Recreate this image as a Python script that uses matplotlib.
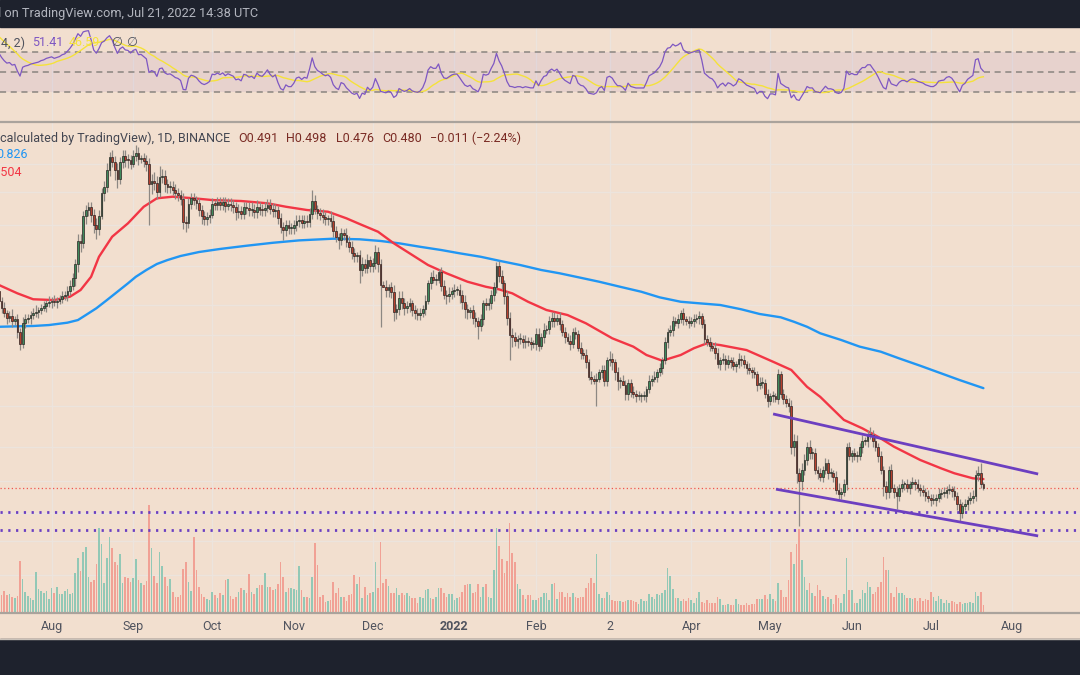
import numpy as np
import pandas as pd
import matplotlib
matplotlib.use("Agg")
import matplotlib.pyplot as plt
import matplotlib.dates as mdates
from matplotlib.patches import Rectangle
from matplotlib.lines import Line2D

plt.rcParams['font.family'] = ['Roboto', 'DejaVu Sans']

W, H = 1080, 675

# ADA/USD daily candles (Binance), 12 Jul 2021 .. 21 Jul 2022
start = pd.Timestamp('2021-07-12')

# closes of the two weeks before the first drawn candle, only used to seed the RSI
warmup_closes = [1.33, 1.40, 1.37, 1.32, 1.39, 1.42, 1.47, 1.41, 1.45, 1.42, 1.35, 1.39, 1.34, 1.40]

closes = [
    1.33, 1.28, 1.24, 1.21, 1.22, 1.19, 1.20, 1.12, 1.05, 1.18,
    1.20, 1.21, 1.23, 1.24, 1.25, 1.26, 1.28, 1.29, 1.31, 1.32,
    1.33, 1.32, 1.33, 1.34, 1.36, 1.37, 1.40, 1.44, 1.50, 1.62,
    1.84, 1.82, 2.10, 2.17, 2.21, 2.12, 2.00, 1.96, 2.11, 2.38,
    2.47, 2.70, 2.90, 2.83, 2.70, 2.58, 2.82, 2.92, 2.86, 2.85,
    2.80, 2.92, 2.97, 2.87, 2.88, 2.84, 2.80, 2.50, 2.55, 2.52,
    2.40, 2.60, 2.62, 2.50, 2.46, 2.47, 2.43, 2.38, 2.36, 2.31,
    2.04, 2.03, 2.25, 2.32, 2.30, 2.26, 2.17, 2.10, 2.07, 2.09,
    2.12, 2.25, 2.24, 2.27, 2.24, 2.27, 2.22, 2.25, 2.23, 2.21,
    2.15, 2.16, 2.13, 2.21, 2.20, 2.17, 2.18, 2.15, 2.21, 2.18,
    2.17, 2.20, 2.24, 2.19, 2.16, 2.18, 2.08, 1.98, 1.95, 2.00,
    1.97, 1.97, 2.00, 2.05, 2.06, 2.03, 2.05, 2.04, 2.13, 2.29,
    2.19, 2.14, 2.12, 2.09, 2.07, 2.08, 2.05, 1.94, 1.88, 1.85,
    1.92, 1.90, 1.83, 1.78, 1.72, 1.69, 1.70, 1.57, 1.62, 1.59,
    1.66, 1.60, 1.63, 1.73, 1.62, 1.45, 1.43, 1.41, 1.43, 1.39,
    1.25, 1.27, 1.35, 1.31, 1.28, 1.29, 1.31, 1.26, 1.24, 1.23,
    1.24, 1.27, 1.33, 1.46, 1.51, 1.49, 1.49, 1.55, 1.44, 1.37,
    1.36, 1.38, 1.40, 1.41, 1.41, 1.37, 1.32, 1.27, 1.25, 1.26,
    1.21, 1.19, 1.16, 1.20, 1.31, 1.30, 1.31, 1.37, 1.43, 1.60,
    1.52, 1.46, 1.36, 1.21, 1.10, 1.09, 1.07, 1.08, 1.08, 1.06,
    1.07, 1.06, 1.05, 1.05, 1.11, 1.04, 1.09, 1.13, 1.14, 1.19,
    1.21, 1.19, 1.21, 1.17, 1.12, 1.09, 1.07, 1.05, 1.12, 1.11,
    1.03, 1.00, 0.99, 0.95, 0.88, 0.87, 0.86, 0.87, 0.90, 0.91,
    0.86, 0.96, 0.97, 0.95, 0.90, 0.86, 0.86, 0.84, 0.80, 0.85,
    0.81, 0.80, 0.79, 0.79, 0.79, 0.79, 0.82, 0.86, 0.87, 0.88,
    0.90, 0.92, 0.96, 1.06, 1.12, 1.13, 1.19, 1.18, 1.20, 1.24,
    1.20, 1.19, 1.18, 1.19, 1.20, 1.21, 1.22, 1.17, 1.08, 1.06,
    1.04, 1.03, 1.00, 0.94, 0.96, 0.97, 0.94, 0.96, 0.95, 0.93,
    0.94, 0.97, 0.96, 0.94, 0.92, 0.91, 0.90, 0.89, 0.84, 0.85,
    0.85, 0.80, 0.77, 0.79, 0.79, 0.78, 0.89, 0.80, 0.78, 0.76,
    0.75, 0.60, 0.62, 0.52, 0.50, 0.53, 0.56, 0.60, 0.58, 0.58,
    0.53, 0.52, 0.51, 0.53, 0.55, 0.52, 0.52, 0.51, 0.475, 0.465,
    0.47, 0.49, 0.60, 0.57, 0.58, 0.57, 0.57, 0.60, 0.62, 0.62,
    0.64, 0.64, 0.62, 0.60, 0.57, 0.53, 0.485, 0.47, 0.53, 0.48,
    0.47, 0.46, 0.48, 0.49, 0.49, 0.48, 0.49, 0.495, 0.49, 0.48,
    0.475, 0.47, 0.46, 0.455, 0.45, 0.45, 0.455, 0.465, 0.467, 0.468,
    0.475, 0.477, 0.472, 0.46, 0.44, 0.42, 0.435, 0.44, 0.45, 0.455,
    0.46, 0.515, 0.52, 0.491, 0.480,
]

# wick lengths in % beyond the body, one digit per day
upper_wick = ("3232342323 3223422323 2322323333 4433333433 3434343333"
              "3343233345 4643333333 3333323333 3323333333 3433334343"
              "3333332333 3333333336 3233324332 3243332343 3234332423"
              "4344333233 3232343233 3423233432 3323233333 3323343232"
              "3232332423 3323232323 2323232323 3243232332 2323232323"
              "2323233232 3232323232 3233232323 2323232323 3232323232"
              "3343343343 3232323234 2323233232 3533232323 2323232323"
              "2323232323 2323232323 33461")
lower_wick = ("2323232332 3232232232 3232223224 4534344532 4333553344"
              "3233234054 4334333333 4533333433 3233333233 4333333333"
              "3323333353 3333333333 3333333335 3333333733 3333440443"
              "5433433333 3232323232 4333344543 3373333333 3344053433"
              "3232332323 3323232323 2323232323 3334454033 3232323232"
              "3232323232 3232323232 3232323232 3232323232 3232323232"
              "3455053333 2323232323 3232323232 3232325432 3732323232"
              "3232323232 3232353232 33321")
high_spikes = {52: 3.10, 119: 2.43, 189: 1.64, 331: 0.67, 373: 0.55}
low_spikes = {57: 2.00, 145: 1.15, 194: 0.96, 227: 0.75, 304: 0.39}

# volume, relative units (1 unit = 1 px of the volume pane)
volume = [
    18, 17, 21, 17, 18, 15, 14, 16, 51, 33, 20, 16, 14, 12, 40, 23, 21, 19, 21, 13,
    24, 19, 25, 18, 18, 21, 23, 18, 19, 39, 54, 41, 60, 65, 35, 30, 32, 48, 84, 68,
    29, 54, 75, 64, 50, 47, 58, 29, 35, 34, 30, 34, 53, 32, 29, 27, 31, 107, 64, 36,
    29, 60, 46, 35, 26, 33, 20, 15, 15, 17, 43, 50, 30, 21, 75, 42, 25, 18, 15, 13,
    12, 20, 17, 14, 19, 17, 32, 33, 16, 13, 15, 20, 24, 22, 19, 38, 20, 18, 24, 27,
    27, 39, 25, 25, 22, 23, 28, 50, 35, 20, 24, 24, 23, 22, 46, 22, 15, 15, 14, 35,
    69, 47, 15, 17, 10, 11, 12, 30, 19, 24, 15, 15, 11, 17, 18, 37, 28, 35, 14, 25,
    17, 19, 20, 50, 24, 70, 29, 33, 26, 19, 19, 24, 17, 19, 17, 19, 16, 14, 14, 9,
    15, 14, 22, 23, 14, 13, 15, 24, 24, 19, 15, 18, 18, 12, 14, 15, 20, 27, 28, 28,
    19, 20, 28, 15, 25, 28, 15, 14, 42, 84, 66, 53, 39, 51, 89, 59, 50, 28, 23, 17,
    13, 17, 17, 12, 12, 14, 15, 19, 19, 12, 28, 29, 13, 20, 20, 15, 19, 15, 19, 15,
    14, 15, 15, 24, 29, 34, 29, 58, 18, 14, 14, 20, 17, 12, 11, 11, 11, 10, 11, 12,
    12, 11, 10, 8, 13, 11, 11, 18, 15, 13, 18, 17, 19, 22, 44, 36, 23, 14, 14, 11,
    13, 11, 14, 12, 9, 14, 20, 10, 9, 12, 9, 9, 9, 15, 13, 7, 7, 8, 7, 7,
    13, 8, 7, 7, 9, 7, 8, 8, 13, 13, 13, 17, 13, 18, 13, 11, 29, 22, 15, 15,
    32, 60, 48, 68, 83, 52, 35, 22, 29, 19, 16, 27, 22, 16, 13, 15, 13, 8, 17, 14,
    9, 18, 54, 22, 22, 9, 9, 13, 22, 19, 30, 25, 18, 20, 25, 30, 55, 42, 42, 19,
    15, 25, 19, 19, 17, 14, 14, 13, 14, 11, 14, 11, 13, 12, 20, 15, 11, 16, 13, 9,
    12, 9, 11, 10, 8, 10, 8, 9, 9, 10, 9, 20, 16, 20, 7,
]

# moving averages (day index, value)
ma50_days = [0, 7, 13, 21, 27, 31, 35, 38, 43, 49, 55, 60, 66, 74, 81, 92, 102, 109, 117, 125,
             132, 137, 144, 150, 156, 163, 170, 178, 185, 190, 195, 201, 208, 216, 223, 233, 241, 246, 252, 259,
             264, 269, 274, 284, 294, 301, 307, 312, 321, 328, 334, 340, 350, 358, 363, 370, 374]
ma50_vals = [1.447, 1.383, 1.339, 1.333, 1.358, 1.408, 1.513, 1.687, 1.881, 2.023, 2.214, 2.318, 2.338, 2.318,
             2.296, 2.284, 2.256, 2.214, 2.175, 2.155, 2.079, 2.016, 1.933, 1.815, 1.719, 1.613, 1.542, 1.473,
             1.433, 1.413, 1.383, 1.321, 1.263, 1.229, 1.175, 1.083, 1.035, 0.989, 0.959, 0.989, 1.026, 1.054,
             1.044, 1.016, 0.954, 0.912, 0.832, 0.788, 0.695, 0.664, 0.634, 0.601, 0.559, 0.534, 0.520, 0.506,
             0.504]
ma200_days = [0, 7, 13, 19, 26, 30, 33, 37, 41, 45, 49, 52, 56, 60, 64, 69, 76, 84, 94, 104,
              114, 127, 137, 145, 152, 160, 168, 175, 183, 190, 198, 206, 213, 221, 228, 236, 244, 251, 259, 266,
              274, 282, 289, 297, 302, 307, 312, 320, 327, 335, 342, 350, 358, 365, 374]
ma200_vals = [1.153, 1.156, 1.158, 1.164, 1.179, 1.196, 1.229, 1.275, 1.333, 1.395, 1.460, 1.513, 1.570, 1.622,
              1.657, 1.694, 1.731, 1.760, 1.791, 1.820, 1.844, 1.861, 1.855, 1.838, 1.815, 1.781, 1.750, 1.719,
              1.687, 1.651, 1.613, 1.570, 1.542, 1.505, 1.473, 1.433, 1.395, 1.353, 1.321, 1.310, 1.298, 1.268,
              1.236, 1.214, 1.185, 1.153, 1.113, 1.073, 1.035, 1.007, 0.971, 0.933, 0.895, 0.863, 0.826]

# drawings
support_levels = [0.4213, 0.382]
last_price = 0.480
channel_upper = ([294.1, 394.8], [0.718, 0.518])
channel_lower = ([295.2, 394.8], [0.477, 0.370])

month_ticks = ['2021-08-01', '2021-09-01', '2021-10-01', '2021-11-01', '2021-12-01', '2022-01-01',
               '2022-02-01', '2022-03-01', '2022-04-01', '2022-05-01', '2022-06-01', '2022-07-01', '2022-08-01']
month_labels = ['Aug', 'Sep', 'Oct', 'Nov', 'Dec', '2022', 'Feb', '2', 'Apr', 'May', 'Jun', 'Jul', 'Aug']
price_grid = [2.8, 2.4, 2.0, 1.6, 1.3, 1.1, 0.9, 0.75, 0.6, 0.5, 0.42, 0.36, 0.3]

BG = '#f2dfcf'
GRID = '#ece4dd'
DARK = '#1e222d'
UP, DOWN = '#3f8a5c', '#b8402e'
VOL_UP, VOL_DOWN = '#92c8b6', '#f1a195'

# ---------------------------------------------------------------
n = len(closes)
assert len(volume) == n
up_pct = np.array([int(ch) for ch in upper_wick.replace(' ', '')])
dn_pct = np.array([int(ch) for ch in lower_wick.replace(' ', '')])
assert len(up_pct) == n and len(dn_pct) == n

dates = pd.date_range(start, periods=n, freq='D')
xs = mdates.date2num(dates)
x0 = mdates.date2num(start)

c = np.array(closes)
o = np.array([warmup_closes[-1]] + closes[:-1])
hi = np.maximum(o, c) * (1 + up_pct / 100)
lo = np.minimum(o, c) * (1 - dn_pct / 100)
for k, v in high_spikes.items():
    hi[k] = v
for k, v in low_spikes.items():
    lo[k] = v
rising = c >= o

allc = pd.Series(warmup_closes + closes)
diff = allc.diff()
gain = diff.clip(lower=0).ewm(alpha=1 / 14, adjust=False).mean()
loss = (-diff.clip(upper=0)).ewm(alpha=1 / 14, adjust=False).mean()
rsi_all = 100 - 100 / (1 + gain / loss)
rsi_ma_all = rsi_all.rolling(14, min_periods=1).mean()
rsi = rsi_all.iloc[len(warmup_closes):].values
rsi_ma = rsi_ma_all.iloc[len(warmup_closes):].values


def fy(py):
    return 1 - py / H


xlim = (x0 + 0.395, x0 + 410.7)
month_x = mdates.date2num(pd.to_datetime(month_ticks))

fig = plt.figure(figsize=(W / 100, H / 100), dpi=100, facecolor=BG)

# dark bars top and bottom
fig.patches.append(Rectangle((0, fy(27)), 1, 27 / H, transform=fig.transFigure, color=DARK, zorder=0))
fig.patches.append(Rectangle((0, 0), 1, 36 / H, transform=fig.transFigure, color=DARK, zorder=0))

# ---- RSI pane
ax_r = fig.add_axes([0, fy(121), 1, (121 - 27) / H])
ax_r.set_facecolor(BG)
ax_r.set_xlim(xlim)
ax_r.set_ylim(1, 95)
for mx in month_x:
    ax_r.axvline(mx, color=GRID, lw=1, zorder=0)
ax_r.axhspan(30, 70, color='#7e57c2', alpha=0.09, lw=0, zorder=1)
for lvl in (70, 50, 30):
    ax_r.axhline(lvl, color='#8a8580', lw=1.1, linestyle=(0, (4, 3)), zorder=2)
ax_r.plot(xs, rsi_ma, color='#f5e23a', lw=1.0, zorder=3)
ax_r.plot(xs, rsi, color='#7e57c2', lw=0.9, zorder=4)
ax_r.set_xticks([])
ax_r.set_yticks([])
for s in ax_r.spines.values():
    s.set_visible(False)

# ---- main pane: grid layer, volume layer, price layer
pos = [0, fy(612), 1, (612 - 122) / H]
ylim = (0.2447, 3.509)

ax_g = fig.add_axes(pos)
ax_g.set_facecolor(BG)
ax_g.set_yscale('log')
ax_g.set_xlim(xlim)
ax_g.set_ylim(ylim)
for mx in month_x:
    ax_g.axvline(mx, color=GRID, lw=1)
for p in price_grid:
    ax_g.axhline(p, color=GRID, lw=1)
ax_g.set_xticks([])
ax_g.set_yticks([])
ax_g.minorticks_off()

ax_v = fig.add_axes(pos)
ax_v.patch.set_visible(False)
ax_v.set_xlim(xlim)
ax_v.set_ylim(0, 612 - 122)
ax_v.bar(xs, volume, width=0.62, color=np.where(rising, VOL_UP, VOL_DOWN), lw=0)
ax_v.set_xticks([])
ax_v.set_yticks([])

ax = fig.add_axes(pos)
ax.patch.set_visible(False)
ax.set_yscale('log')
ax.set_xlim(xlim)
ax.set_ylim(ylim)

ax.plot(x0 + np.array(ma200_days), ma200_vals, color='#2196f3', lw=1.7, zorder=2, solid_capstyle='round')
ax.plot(x0 + np.array(ma50_days), ma50_vals, color='#f23645', lw=1.7, zorder=2, solid_capstyle='round')

ax.vlines(xs, lo, hi, color='#8d8883', lw=0.9, zorder=3)
body_lo = np.minimum(o, c)
body_h = np.maximum(np.abs(c - o), body_lo * 0.006)
ax.bar(xs, body_h, bottom=body_lo, width=0.66, color=np.where(rising, UP, DOWN),
       edgecolor='#2b2523', lw=0.5, zorder=4)

ax.axhline(last_price, color='#f0564f', lw=0.9, linestyle=(0, (1, 2)), zorder=1)
for lvl in support_levels:
    ax.axhline(lvl, color='#6a3fc2', lw=2.0, linestyle=(0, (0.8, 2.0)), zorder=5)
for ch in (channel_upper, channel_lower):
    ax.plot(x0 + np.array(ch[0]), ch[1], color='#6c3fc0', lw=2.0, zorder=5, solid_capstyle='butt')

ax.minorticks_off()
ax.set_yticks([])
ax.set_xticks(month_x)
ax.set_xticklabels(month_labels)
ax.tick_params(axis='x', length=0, pad=6, labelsize=9, colors='#50535e')
for lab in ax.get_xticklabels():
    if lab.get_text() == '2022':
        lab.set_fontweight('bold')
for a in (ax, ax_g, ax_v):
    for s in a.spines.values():
        s.set_visible(False)

# pane separators
for py, col, lw in ((121.5, '#aaa39c', 1.6), (612.5, '#aaa39c', 1.6), (638.5, '#c9c1b9', 1.0)):
    fig.add_artist(Line2D([0, 1], [fy(py), fy(py)], transform=fig.transFigure, color=col, lw=lw))

# ---- texts


def txt(px, py, s, color, size=9, **kw):
    fig.text(px / W, fy(py), s, color=color, fontsize=size, va='center', ha='left', **kw)


txt(-5.5, 14, 'd on TradingView.com, Jul 21, 2022 14:38 UTC', '#b2b5be', 9.2)

txt(-6, 43, '14, 2)', '#50535e', 9)
txt(32, 43, '51.41', '#7e57c2', 9)
txt(69, 43, '46.59', '#f5e23a', 9)
txt(111, 43, '\u2205', '#50535e', 9)
txt(126, 43, '\u2205', '#50535e', 9)

txt(0.5, 138, 'calculated by TradingView), 1D, BINANCE', '#434651', 9)
for px, s in ((238, 'O0.491'), (286, 'H0.498'), (336, 'L0.476'), (382, 'C0.480')):
    txt(px, 138, s, '#7a2b24', 9)
txt(430, 138, '\u22120.011 (\u22122.24%)', '#7a2b24', 9)
txt(-4, 155, '0.826', '#2196f3', 9)
txt(-10, 172, '0.504', '#f23645', 9)

fig.savefig('out.png', dpi=100, facecolor=BG)
